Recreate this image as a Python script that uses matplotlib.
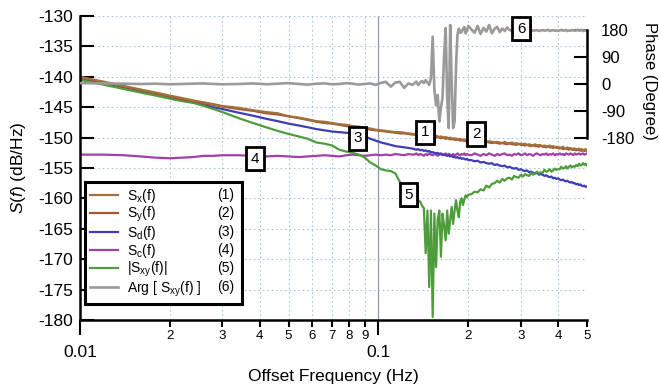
import numpy as np
import matplotlib
matplotlib.use('Agg')
import matplotlib.pyplot as plt
import matplotlib.patheffects as pe
from matplotlib.ticker import FixedLocator, FixedFormatter

plt.rcParams['font.family'] = ['Liberation Sans', 'DejaVu Sans']
plt.rcParams['mathtext.fontset'] = 'custom'
plt.rcParams['mathtext.rm'] = 'Liberation Sans'
plt.rcParams['mathtext.it'] = 'Liberation Sans:italic'
plt.rcParams['axes.unicode_minus'] = False

# ---------------- data ----------------
freq = np.round(np.concatenate([
    np.arange(0.010, 0.0301, 0.002),
    np.arange(0.034, 0.1301, 0.004),
    np.arange(0.132, 0.2001, 0.002),
    np.arange(0.205, 0.5001, 0.005)]), 3)

s_x = [
    -140.0, -140.8, -141.5, -142.1, -142.6, -143.1, -143.5, -143.9, -144.2, -144.5, -144.8,
    -145.1, -145.5, -145.8, -146.0, -146.5, -146.7, -147.0, -147.3, -147.4, -147.6, -147.8, -147.9,
    -148.1, -148.2, -148.4, -148.5, -148.7, -148.8, -148.9, -149.0, -149.1, -149.1, -149.2, -149.3, -149.4,
    -149.4, -149.3, -149.5, -149.4, -149.5, -149.6, -149.5, -149.6, -149.7, -149.6,
    -149.7, -149.8, -149.7, -149.8, -149.9, -149.8, -149.9, -150.0, -149.9, -150.0,
    -150.1, -150.0, -150.1, -150.2, -150.1, -150.2, -150.2, -150.3, -150.2, -150.3,
    -150.4, -150.3, -150.4, -150.4, -150.5,
    -150.4, -150.5, -150.4, -150.6, -150.5, -150.7, -150.6, -150.7, -150.8, -150.7,
    -150.8, -150.9, -150.7, -150.9, -151.0, -150.8, -151.0, -150.9, -151.1, -151.0,
    -151.1, -151.0, -151.2, -151.1, -151.2, -151.3, -151.1, -151.3, -151.2, -151.3,
    -151.4, -151.3, -151.4, -151.5, -151.3, -151.5, -151.4, -151.6, -151.5, -151.6,
    -151.6, -151.7, -151.5, -151.7, -151.8, -151.6, -151.8, -151.7, -151.9, -151.8,
    -151.8, -151.9, -152.0, -151.8, -152.0, -151.9, -152.1, -152.0, -151.9, -152.1]

s_y = [
    -140.1, -140.9, -141.6, -142.2, -142.8, -143.2, -143.7, -144.0, -144.4, -144.6, -144.9,
    -145.3, -145.6, -146.0, -146.2, -146.5, -146.8, -147.1, -147.4, -147.6, -147.7, -147.9, -148.1,
    -148.2, -148.4, -148.5, -148.7, -148.8, -148.9, -149.0, -149.1, -149.2, -149.3, -149.3, -149.4, -149.5,
    -149.5, -149.6, -149.5, -149.7, -149.6, -149.7, -149.8, -149.7, -149.8, -149.9,
    -149.8, -149.9, -150.0, -149.9, -150.0, -150.1, -150.0, -150.1, -150.2, -150.1,
    -150.2, -150.3, -150.2, -150.3, -150.3, -150.4, -150.3, -150.4, -150.5, -150.4,
    -150.5, -150.5, -150.6, -150.5, -150.6,
    -150.6, -150.5, -150.7, -150.6, -150.8, -150.7, -150.8, -150.9, -150.8, -150.9,
    -151.0, -150.9, -151.0, -151.1, -150.9, -151.1, -151.1, -151.2, -151.0, -151.2,
    -151.2, -151.3, -151.2, -151.3, -151.4, -151.2, -151.4, -151.4, -151.5, -151.3,
    -151.5, -151.5, -151.6, -151.4, -151.6, -151.6, -151.7, -151.5, -151.7, -151.7,
    -151.8, -151.7, -151.9, -151.8, -151.8, -151.9, -152.0, -151.8, -152.0, -152.0,
    -152.0, -152.1, -151.9, -152.1, -152.1, -152.2, -152.0, -152.2, -152.1, -152.2]

s_d = [
    -140.3, -141.0, -141.7, -142.3, -142.8, -143.3, -143.8, -144.2, -144.6, -145.0, -145.3,
    -145.9, -146.4, -146.9, -147.3, -147.7, -148.0, -148.3, -148.6, -148.8, -149.0, -149.1, -149.2,
    -149.3, -149.5, -149.8, -150.2, -150.5, -150.8, -151.0, -151.2, -151.4, -151.5, -151.6, -151.7, -151.8,
    -151.9, -152.0, -151.9, -152.1, -152.0, -152.2, -152.1, -152.3, -152.2, -152.4,
    -152.4, -152.5, -152.6, -152.5, -152.7, -152.6, -152.8, -152.8, -152.9, -153.0,
    -152.9, -153.1, -153.0, -153.2, -153.2, -153.3, -153.2, -153.4, -153.3, -153.5,
    -153.4, -153.5, -153.6, -153.5, -153.7,
    -153.7, -153.9, -153.8, -154.1, -154.0, -154.2, -154.3, -154.2, -154.5, -154.4,
    -154.6, -154.7, -154.6, -154.9, -154.8, -155.0, -155.1, -155.0, -155.3, -155.2,
    -155.4, -155.5, -155.4, -155.7, -155.6, -155.8, -155.9, -155.8, -156.1, -156.0,
    -156.1, -156.3, -156.2, -156.4, -156.5, -156.4, -156.7, -156.6, -156.8, -156.7,
    -156.9, -157.0, -156.9, -157.1, -157.2, -157.1, -157.3, -157.4, -157.3, -157.5,
    -157.5, -157.7, -157.6, -157.8, -157.7, -157.9, -158.0, -157.9, -158.1, -158.0]

s_c = [
    -152.8, -152.8, -152.9, -153.1, -153.3, -153.4, -153.3, -153.2, -153.0, -153.0, -152.9,
    -152.9, -153.0, -153.1, -153.0, -153.1, -153.2, -153.1, -153.0, -152.9, -153.0, -153.1, -152.9,
    -152.8, -152.9, -153.0, -152.9, -152.8, -152.9, -152.8, -152.9, -152.7, -152.8, -152.9, -152.7, -152.8,
    -152.8, -152.6, -152.9, -152.7, -152.8, -153.0, -152.7, -152.9, -152.6, -152.8,
    -152.9, -152.7, -152.8, -153.0, -152.8, -152.7, -152.9, -152.8, -152.6, -152.9,
    -152.7, -152.8, -153.0, -152.7, -152.9, -152.8, -152.6, -152.8, -152.9, -152.7,
    -152.8, -152.6, -152.9, -152.7, -152.8,
    -152.9, -152.6, -152.8, -153.0, -152.7, -152.9, -152.6, -152.8, -153.0, -152.7,
    -152.9, -152.7, -152.6, -152.9, -152.8, -153.0, -152.7, -152.8, -152.6, -152.9,
    -152.8, -152.6, -152.9, -152.7, -152.8, -153.0, -152.7, -152.6, -152.8, -152.9,
    -152.7, -152.8, -152.6, -152.9, -152.7, -152.8, -152.6, -152.9, -152.7, -152.8,
    -152.6, -152.8, -152.7, -152.9, -152.6, -152.7, -152.8, -152.6, -152.7, -152.9,
    -152.6, -152.8, -152.7, -152.6, -152.8, -152.7, -152.6, -152.8, -152.7, -152.6]

s_xy_mag = [
    -140.5, -141.3, -142.0, -142.6, -143.1, -143.6, -144.0, -144.3, -144.8, -145.3, -145.8,
    -146.8, -147.6, -148.3, -148.9, -149.4, -149.8, -150.2, -150.8, -151.0, -151.3, -152.0, -152.3,
    -152.5, -152.8, -153.3, -154.1, -154.6, -155.2, -155.4, -155.5, -155.9, -157.3, -158.6, -159.4, -159.8,
    -160.0, -160.2, -160.4, -160.5, -161.2, -161.6, -169.0, -162.0, -174.6, -162.0,
    -179.5, -162.5, -171.3, -163.5, -162.0, -169.6, -162.5, -164.5, -166.9, -162.0,
    -165.8, -163.5, -161.4, -164.2, -162.0, -160.3, -162.0, -163.1, -160.5, -160.0,
    -161.1, -160.2, -159.5, -159.8, -159.4,
    -159.3, -158.9, -159.0, -158.5, -158.7, -157.9, -158.2, -157.6, -157.5, -157.1,
    -157.4, -156.8, -157.1, -156.7, -156.6, -156.9, -156.3, -156.5, -156.6, -156.1,
    -156.4, -156.0, -156.2, -156.3, -155.8, -156.1, -155.9, -155.6, -155.9, -155.7,
    -155.8, -155.3, -155.6, -155.5, -155.2, -155.6, -155.4, -155.1, -155.3, -155.2,
    -155.2, -154.8, -155.1, -155.0, -154.7, -155.1, -154.8, -154.6, -154.9, -154.7,
    -154.8, -154.5, -154.7, -154.3, -154.6, -154.5, -154.2, -154.5, -154.3, -154.6]

s_xy_arg = [
    3, 2, 1, 0, 1, -1, 0, 1, 2, 0, -1,
    0, 2, -1, 1, 3, 0, -2, 1, 2, -1, 0, 3,
    1, -2, 0, 2, -3, 4, 7, -9, 5, 7, -13, 2, -3,
    2, 8, -4, 5, 10, 3, 13, 5, -3, 20,
    159, -20, -72, -37, -126, -80, -47, 97, 188, -47,
    -148, 198, 8, -148, -126, 60, 165, 186, 172, 175,
    185, 191, 170, 181, 195,
    183, 172, 195, 168, 188, 176, 198, 170, 185, 192,
    174, 186, 178, 190, 181, 179, 182, 180, 178, 181,
    179, 181, 180, 178, 182, 179, 180, 181, 178, 180,
    181, 179, 180, 182, 178, 180, 181, 179, 180, 178,
    180, 182, 179, 180, 181, 178, 180, 179, 181, 180,
    179, 180, 182, 179, 180, 181, 178, 180, 179, 180]

series_names = [r'S$_\mathrm{x}$(f)', r'S$_\mathrm{y}$(f)', r'S$_\mathrm{d}$(f)',
                r'S$_\mathrm{c}$(f)', r'|S$_\mathrm{xy}$(f)|', r'Arg [ S$_\mathrm{xy}$(f) ]']
series_numbers = ['(1)', '(2)', '(3)', '(4)', '(5)', '(6)']
series_colors = ['#a3703a', '#a8543a', '#3d3db8', '#a23fa8', '#4e9c3c', '#9a9a9a']

x_major = [0.01, 0.1]
x_major_labels = ['0.01', '0.1']
x_minor = [0.02, 0.03, 0.04, 0.05, 0.06, 0.07, 0.08, 0.09, 0.2, 0.3, 0.4, 0.5]
x_minor_labels = ['2', '3', '4', '5', '6', '7', '8', '9', '2', '3', '4', '5']
y_ticks = [-180, -175, -170, -165, -160, -155, -150, -145, -140, -135, -130]
phase_ticks = [-180, -90, 0, 90, 180]

# annotation markers: (label, frequency, dB)
markers = [('1', 0.1436, -149.1), ('2', 0.2127, -149.4), ('3', 0.0851, -150.1),
           ('4', 0.0385, -153.5), ('5', 0.126, -159.4), ('6', 0.301, -132.1)]

# ---------------- figure ----------------
W, H = 659, 388
fig = plt.figure(figsize=(W / 100, H / 100), dpi=100)
ax = fig.add_axes([80 / W, 1 - 320 / H, 507 / W, 304 / H])
ax.set_xscale('log')
ax.set_xlim(0.01, 0.5)
ax.set_ylim(-180, -130)

grid_kw = dict(color='#a9c5da', lw=0.8, ls=(0, (1.5, 2.5)))
ax.xaxis.set_major_locator(FixedLocator(x_major))
ax.xaxis.set_major_formatter(FixedFormatter(x_major_labels))
ax.xaxis.set_minor_locator(FixedLocator(x_minor))
ax.xaxis.set_minor_formatter(FixedFormatter(x_minor_labels))
ax.set_yticks(y_ticks)
ax.grid(which='minor', axis='x', **grid_kw)
ax.grid(which='major', axis='y', **grid_kw)
ax.axvline(0.1, color='#8a9bb0', lw=0.9, zorder=1)

ax.tick_params(axis='x', which='major', direction='out', length=10.8, width=1.5,
               pad=7.5, labelsize=12.5)
ax.tick_params(axis='x', which='minor', direction='out', length=5, width=1.5,
               pad=2.5, labelsize=9.5)
ax.tick_params(axis='y', direction='in', length=10, width=1.5, pad=5, labelsize=12.5)
for s in ['top', 'right']:
    ax.spines[s].set_visible(False)
for s in ['left', 'bottom']:
    ax.spines[s].set_linewidth(1.8)

lw = 1.6
h = {}
h[3] = ax.plot(freq, s_c, color=series_colors[3], lw=lw)[0]
h[2] = ax.plot(freq, s_d, color=series_colors[2], lw=lw)[0]
h[4] = ax.plot(freq, s_xy_mag, color=series_colors[4], lw=lw)[0]
h[1] = ax.plot(freq, s_y, color=series_colors[1], lw=lw)[0]
h[0] = ax.plot(freq, s_x, color=series_colors[0], lw=lw)[0]

ax2 = ax.twinx()
ax2.set_ylim(-792.5, 228.3)
h[5] = ax2.plot(freq, s_xy_arg, color=series_colors[5], lw=1.9)[0]
ax2.set_yticks(phase_ticks)
ax2.spines['right'].set_bounds(-180, 180)
ax2.spines['right'].set_linewidth(1.8)
for s in ['top', 'left', 'bottom']:
    ax2.spines[s].set_visible(False)
ax2.tick_params(axis='y', direction='in', length=9.5, width=1.5, pad=10, labelsize=12)

shadow = [pe.SimplePatchShadow(offset=(1.2, -1.2), shadow_rgbFace='black', alpha=0.85),
          pe.Normal()]
for lab, f, db in markers:
    t = ax2.text(f, db, lab, transform=ax.transData, ha='center', va='center', fontsize=11,
                 zorder=10, bbox=dict(boxstyle='square,pad=0.3', fc='white', ec='black', lw=2))
    t.get_bbox_patch().set_path_effects(shadow)

leg_w = 157 / 507
leg = ax.legend([h[i] for i in range(6)], series_names, loc='upper left',
                bbox_to_anchor=(0.0099, 0.0, leg_w, 0.454), mode='expand',
                borderaxespad=0, frameon=True, fancybox=False, edgecolor='black',
                framealpha=1, fontsize=10, handlelength=2.0, handletextpad=0.7,
                labelspacing=0.0, borderpad=0.35)
leg.get_frame().set_linewidth(2.2)
leg.get_frame().set_path_effects(shadow)

ax.set_xlabel('Offset Frequency (Hz)', fontsize=12.5)
ax.xaxis.set_label_coords(0.5, -0.161)
ax.set_ylabel(r'$S(f)$ (dB/Hz)', fontsize=12.5)
ax.yaxis.set_label_coords(-0.102, 0.5)
fig.text(650 / W, 1 - 81 / H, 'Phase (Degree)', rotation=-90, ha='center', va='center',
         fontsize=12)

# legend number column, aligned to each legend row
fig.canvas.draw()
for line, num in zip(leg.get_lines(), series_numbers):
    bb = line.get_window_extent(fig.canvas.get_renderer())
    yc = (bb.y0 + bb.y1) / 2
    fig.text(226 / W, yc / H, num, ha='center', va='center', fontsize=10, zorder=20)

fig.savefig('out.png', dpi=100)
